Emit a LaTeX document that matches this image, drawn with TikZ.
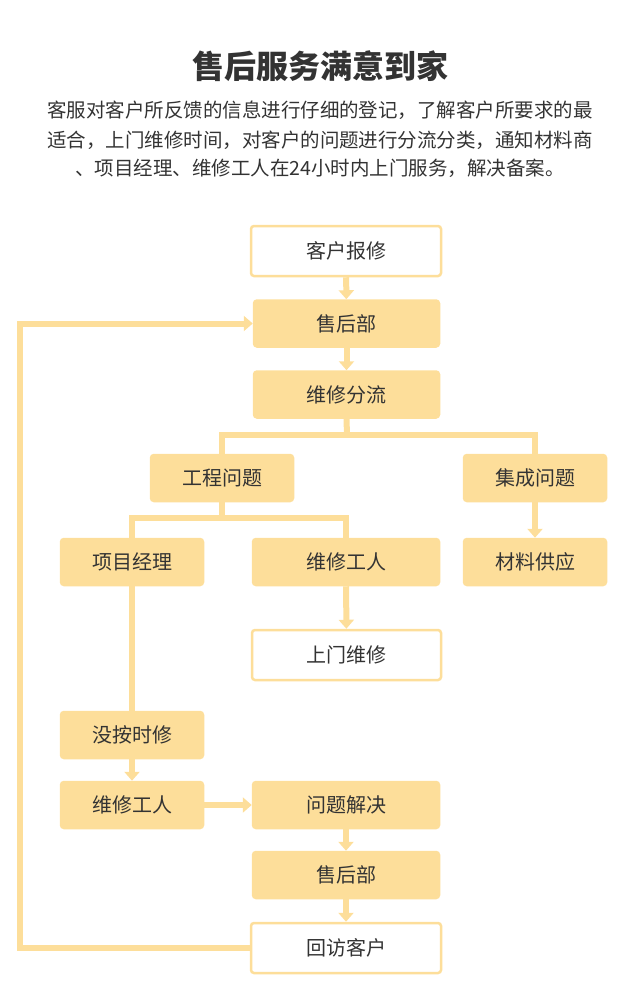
\documentclass[tikz,border=0pt]{standalone}
\usepackage{fontspec}
\setmainfont{Noto Sans CJK SC}
\usetikzlibrary{arrows.meta}
\definecolor{yel}{HTML}{FDDE9A}
\definecolor{txt}{HTML}{333333}
\tikzset{
 box/.style={draw=yel,fill=yel,line width=2.5pt,rounded corners=3pt,minimum height=46pt,text=txt,font=\fontsize{20}{24}\selectfont,inner sep=0pt},
 wbox/.style={box,fill=white,minimum height=50pt},
 ln/.style={draw=yel,line width=6pt},
 ar/.style={ln,-{Triangle[width=15pt,length=9pt]}},
 para/.style={text=txt,font=\fontsize{19.5}{24}\selectfont,inner sep=0pt}
}
\begin{document}
\begin{tikzpicture}[x=1pt,y=-1pt]
\useasboundingbox (0,0) rectangle (640,1001);
\node[text=txt,font=\bfseries\fontsize{32}{36}\selectfont] (title) at (320,66) {售后服务满意到家};
\node[para] (p1) at (320,110) {客服对客户所反馈的信息进行仔细的登记，了解客户所要求的最};
\node[para] (p2) at (320,140) {适合，上门维修时间，对客户的问题进行分流分类，通知材料商};
\node[para] (p3) at (320,168) {、项目经理、维修工人在24小时内上门服务，解决备案。};
\node[wbox,minimum width=190pt] (a) at (346,251) {客户报修};
\node[box,minimum width=185pt] (b) at (346.5,323.5) {售后部};
\node[box,minimum width=185pt] (c) at (346.5,394.5) {维修分流};
\node[box,minimum width=142pt] (d) at (222,478) {工程问题};
\node[box,minimum width=142pt] (e) at (535,478) {集成问题};
\node[box,minimum width=142pt] (f) at (132,562) {项目经理};
\node[box,minimum width=186pt] (g) at (346,562) {维修工人};
\node[box,minimum width=142pt] (h) at (535,562) {材料供应};
\node[wbox,minimum width=189pt] (i) at (346.5,655) {上门维修};
\node[box,minimum width=142pt] (j) at (132,735) {没按时修};
\node[box,minimum width=142pt] (k) at (132,805) {维修工人};
\node[box,minimum width=186pt] (l) at (346,805) {问题解决};
\node[box,minimum width=186pt] (m) at (346,875) {售后部};
\node[wbox,minimum width=190pt] (n) at (346,948) {回访客户};
\coordinate (c1) at (347,435);
\coordinate (c2) at (222,518);
\draw[ar] (a) -- (b);
\draw[ar] (b) -- (c);
\draw[ln] (c.south) -- (c1);
\draw[ln] (d.north) |- (c1) -| (e.north);
\draw[ln] (d.south) -- (c2);
\draw[ln] (f.north) |- (c2) -| (g.north);
\draw[ar] (e) -- (h);
\draw[ar] (g) -- (i);
\draw[ln] (f) -- (j);
\draw[ar] (j) -- (k);
\draw[ar] (k) -- (l);
\draw[ar] (l) -- (m);
\draw[ar] (m) -- (n);
\draw[ar] (n.west) -- (20,948) -- (20,323.5) -- (b.west);
\end{tikzpicture}
\end{document}
